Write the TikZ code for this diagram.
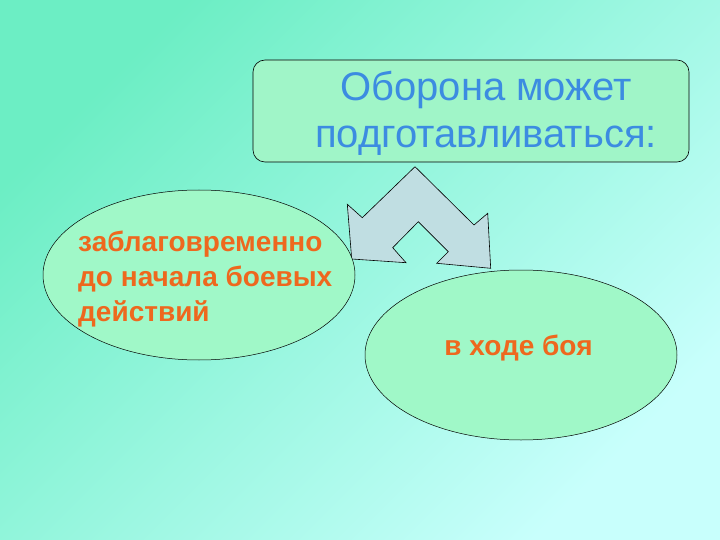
\documentclass[tikz,border=0pt]{standalone}
\usepackage{fontspec}
\setmainfont{Liberation Sans}
\usetikzlibrary{shapes.geometric}
\definecolor{bgA}{RGB}{108,238,196}
\definecolor{bgB}{RGB}{200,255,252}
\definecolor{boxfill}{RGB}{160,245,200}
\definecolor{ellfill}{RGB}{160,248,200}
\definecolor{arrowfill}{RGB}{192,222,226}
\definecolor{titleblue}{RGB}{60,140,225}
\definecolor{orangetext}{RGB}{238,104,30}
\tikzset{
  titlebox/.style={draw=black, line width=0.6pt, rounded corners=12pt, fill=boxfill, inner sep=0pt},
  ovalbox/.style={ellipse, draw=black, line width=0.5pt, fill=ellfill, inner sep=0pt},
  titletext/.style={text=titleblue, font=\fontsize{40}{47}\selectfont, align=center, inner sep=0pt},
  ovaltext/.style={text=orangetext, font=\fontsize{28}{35}\selectfont\bfseries, inner sep=0pt},
  blockarrow/.style={draw=black, line width=0.6pt, fill=arrowfill, line join=miter}
}
\begin{document}
\begin{tikzpicture}[x=1pt,y=-1pt]
\useasboundingbox (0,0) rectangle (720,540);
\shade[top color=bgA, bottom color=bgB, shading angle=45] (0,0) rectangle (720,540);
% title box
\node[titlebox, minimum width=436pt, minimum height=102pt] (box) at (471,111) {};
\node[titletext, anchor=base] (title) at (486,148) {Оборона может\\подготавливаться:};
% split block arrow
\draw[blockarrow] (415,166.7) -- (474,225) -- (487.7,213.3) -- (490.7,268.3)
  -- (436.7,263.3) -- (448.3,251.7) -- (418.3,221.7) -- (392.7,247.7)
  -- (406,262.7) -- (351.7,259) -- (347.3,204.3) -- (362.3,217.7) -- cycle;
% ellipses
\node[ovalbox, minimum width=312pt, minimum height=170pt] (left) at (199,275) {};
\node[ovalbox, minimum width=312pt, minimum height=170pt] (right) at (521,355) {};
\node[ovaltext, align=left, anchor=base west] (lefttext) at (78,321) {заблаговременно\\до начала боевых\\действий};
\node[ovaltext, anchor=base] (righttext) at (518.5,355) {в ходе боя};
\end{tikzpicture}
\end{document}
